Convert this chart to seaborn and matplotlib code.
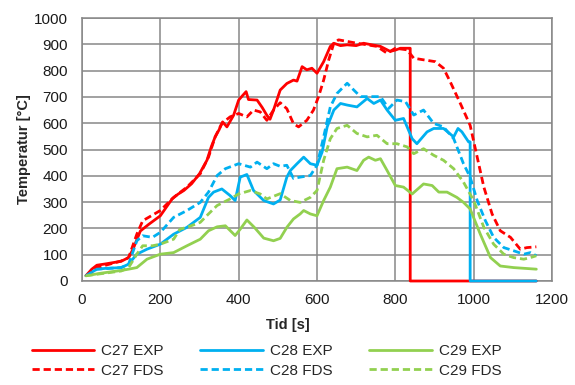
import numpy as np
import pandas as pd
import matplotlib
matplotlib.use("Agg")
import matplotlib.pyplot as plt
import seaborn as sns

# C27 EXP
t_c27_exp = [10, 25, 38, 60, 80, 100, 119, 130, 149, 170, 200, 215, 230, 245, 260, 280, 300, 319, 330, 340,
             350, 359, 370, 387, 400, 410, 419, 425, 447, 460, 472, 480, 489, 506, 523, 540, 549, 562, 574, 587,
             600, 617, 634, 643, 660, 677, 700, 719, 740, 762, 787, 800, 813, 834, 838, 838, 1160]
v_c27_exp = [20, 45, 60, 65, 70, 75, 89, 120, 190, 215, 248, 280, 312, 330, 344, 370, 408, 459, 510, 548,
             575, 605, 586, 630, 688, 705, 720, 690, 688, 660, 630, 615, 650, 726, 751, 764, 760, 815, 803, 809,
             790, 834, 892, 904, 895, 898, 895, 904, 898, 892, 873, 878, 885, 885, 885, 0, 0]

# C28 EXP
t_c28_exp = [10, 38, 60, 100, 119, 140, 166, 200, 234, 268, 302, 323, 336, 357, 378, 391, 404, 421, 438, 464,
             489, 506, 523, 532, 549, 566, 583, 600, 613, 626, 643, 660, 677, 702, 728, 745, 762, 779, 800, 821,
             843, 855, 881, 898, 923, 949, 960, 970, 987, 991, 991, 1160]
v_c28_exp = [20, 45, 48, 51, 64, 102, 121, 140, 178, 204, 242, 318, 338, 350, 325, 306, 395, 405, 344, 306,
             293, 308, 395, 420, 446, 471, 446, 440, 490, 586, 650, 675, 669, 662, 694, 675, 688, 650, 611, 618,
             541, 522, 567, 580, 580, 548, 580, 567, 529, 529, 0, 0]

# C29 EXP
t_c29_exp = [10, 50, 100, 119, 140, 166, 200, 234, 268, 302, 323, 345, 366, 391, 404, 421, 440, 464, 489, 506,
             523, 540, 557, 566, 583, 600, 617, 634, 651, 677, 702, 719, 732, 749, 762, 779, 800, 821, 843, 872,
             894, 911, 932, 957, 974, 991, 1017, 1043, 1068, 1102, 1160]
v_c29_exp = [20, 30, 40, 45, 51, 83, 102, 108, 134, 159, 191, 206, 210, 173, 197, 232, 204, 163, 153, 162,
             204, 236, 255, 268, 255, 248, 306, 357, 427, 433, 420, 459, 471, 459, 465, 420, 363, 357, 331, 369,
             363, 338, 338, 318, 299, 274, 178, 89, 57, 51, 45]

# C27 FDS
t_c27_fds = [10, 38, 100, 119, 140, 155, 200, 234, 268, 302, 323, 340, 357, 378, 400, 421, 438, 455, 472, 489,
             506, 523, 540, 553, 574, 591, 604, 617, 630, 643, 655, 677, 702, 728, 753, 779, 800, 830, 847, 872,
             902, 923, 940, 966, 991, 1009, 1026, 1047, 1068, 1094, 1119, 1136, 1160]
v_c27_fds = [20, 51, 76, 89, 178, 229, 268, 318, 357, 408, 471, 548, 599, 624, 637, 624, 650, 643, 611, 650,
             678, 655, 598, 586, 611, 650, 701, 764, 841, 904, 917, 911, 904, 898, 892, 866, 885, 879, 847, 841,
             834, 809, 758, 675, 592, 471, 357, 255, 191, 166, 121, 127, 130]

# C28 FDS
t_c28_fds = [10, 38, 100, 119, 140, 155, 180, 200, 234, 268, 302, 323, 345, 366, 400, 430, 447, 472, 489, 506,
             523, 540, 557, 583, 600, 617, 634, 651, 677, 694, 711, 736, 762, 783, 804, 826, 847, 872, 898, 923,
             949, 974, 991, 1009, 1030, 1051, 1077, 1102, 1128, 1145, 1160]
v_c28_fds = [20, 45, 51, 64, 153, 172, 166, 185, 242, 268, 299, 338, 401, 427, 446, 433, 452, 427, 446, 436,
             440, 390, 395, 401, 440, 548, 662, 713, 752, 726, 701, 701, 701, 656, 688, 682, 631, 650, 599, 586,
             541, 446, 395, 306, 229, 166, 127, 115, 102, 108, 96]

# C29 FDS
t_c29_fds = [10, 60, 100, 119, 140, 155, 180, 200, 234, 250, 268, 302, 323, 345, 378, 400, 430, 455, 472, 506,
             532, 557, 583, 600, 617, 634, 651, 677, 702, 728, 753, 779, 804, 830, 847, 872, 898, 923, 949, 974,
             1000, 1026, 1051, 1077, 1102, 1128, 1145, 1160]
v_c29_fds = [20, 30, 38, 51, 102, 134, 134, 140, 159, 197, 204, 223, 255, 287, 312, 331, 344, 331, 312, 332,
             306, 299, 318, 344, 459, 541, 580, 592, 561, 548, 554, 522, 522, 510, 484, 503, 478, 459, 427, 376,
             306, 204, 140, 102, 89, 83, 89, 96]

series_names = ["C27 EXP", "C28 EXP", "C29 EXP", "C27 FDS", "C28 FDS", "C29 FDS"]
series_t = [t_c27_exp, t_c28_exp, t_c29_exp, t_c27_fds, t_c28_fds, t_c29_fds]
series_v = [v_c27_exp, v_c28_exp, v_c29_exp, v_c27_fds, v_c28_fds, v_c29_fds]
colors = {"C27": "#FF0000", "C28": "#00B0F0", "C29": "#92D050"}

x_ticks = [0, 200, 400, 600, 800, 1000, 1200]
y_ticks = [0, 100, 200, 300, 400, 500, 600, 700, 800, 900, 1000]

sns.set_style("white")
plt.rcParams["font.family"] = ["Liberation Sans", "DejaVu Sans"]

fig = plt.figure(figsize=(5.75, 3.85), dpi=100)
ax = fig.add_axes([82 / 575, 1 - 281 / 385, 470 / 575, 263 / 385])

lines = {}
for name, t, v in zip(series_names, series_t, series_v):
    sensor, kind = name.split()
    ls = "-" if kind == "EXP" else (0, (2.6, 1.4))
    sns.lineplot(x=t, y=v, ax=ax, color=colors[sensor], linestyle=ls, linewidth=2,
                 estimator=None, sort=False, legend=False)
    lines[name] = ax.lines[-1]
    lines[name].set_clip_on(False)

ax.set_xlim(0, 1200)
ax.set_ylim(0, 1000)
ax.set_xticks(x_ticks)
ax.set_yticks(y_ticks)
ax.tick_params(axis="both", length=0, labelsize=11, colors="#1a1a1a")
ax.tick_params(axis="x", pad=9)
ax.tick_params(axis="y", pad=10)
ax.grid(True, color="#878787", linewidth=1.1)
ax.set_axisbelow(True)
for s in ax.spines.values():
    s.set_color("#878787")
    s.set_linewidth(1.1)
    s.set_zorder(0.5)
ax.set_xlabel("")
ax.set_ylabel("")

fig.text(0.5, 1 - 325 / 385, "Tid [s]", ha="center", va="center", fontsize=10.5, fontweight="bold")
fig.text(24 / 575, 1 - 149 / 385, "Temperatur [°C]", ha="center", va="center", rotation=90,
         fontsize=10.5, fontweight="bold")

order = ["C27 EXP", "C27 FDS", "C28 EXP", "C28 FDS", "C29 EXP", "C29 FDS"]
fig.legend([lines[n] for n in order], order, loc="center", bbox_to_anchor=(0.4635, 0.062),
           ncol=3, frameon=False, fontsize=11, handlelength=4.1, handletextpad=0.45,
           columnspacing=2.4, labelspacing=0.35)

fig.savefig("out.png", dpi=100)
